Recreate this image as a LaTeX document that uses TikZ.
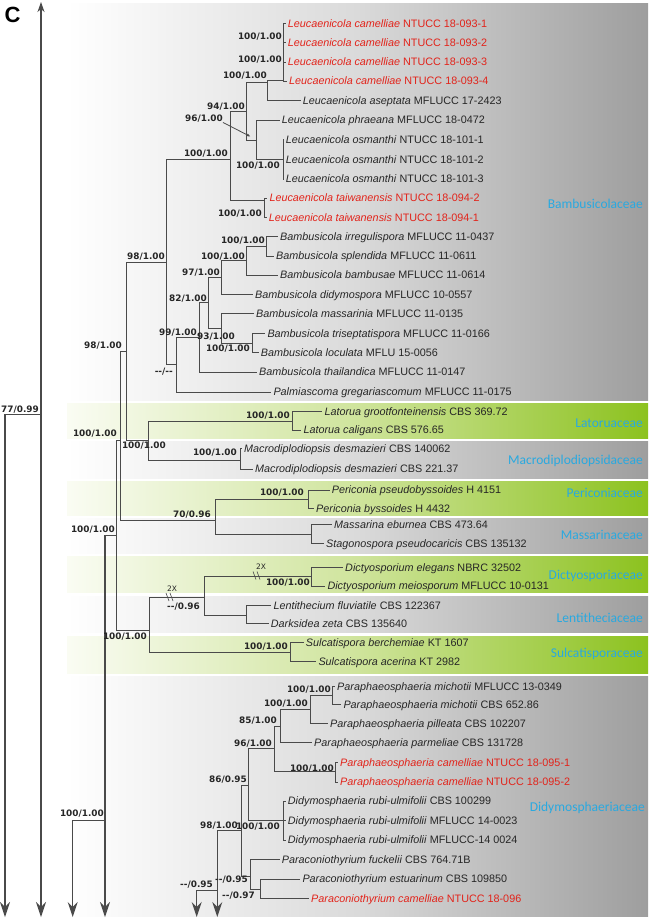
\documentclass[tikz,border=0pt]{standalone}
\usepackage{fontspec}
\setmainfont{Liberation Sans}
\newfontfamily\supfnt{DejaVu Sans}
\newfontfamily\famfnt{Carlito}
\usetikzlibrary{arrows.meta}
\definecolor{brc}{HTML}{4A4A4A}
\definecolor{redc}{HTML}{E2231A}
\definecolor{txc}{HTML}{262626}
\definecolor{famc}{HTML}{29A9E0}
\definecolor{grayR}{HTML}{9E9E9E}
\definecolor{grayM}{HTML}{DADADA}
\definecolor{greenR}{HTML}{8CC21F}
\definecolor{greenM}{HTML}{CFE49C}
\definecolor{greenL}{HTML}{FAFCF3}
\newcommand\tipn[6]{\node[tx,text=#6] (#1) at (#2,#3) {\textit{#4} #5};}
\newcommand\supl[4]{\node[sup] (#1) at (#2,#3) {#4};}
\newcommand\famlab[4]{\node[fam] (#1) at (#2,#3) {#4};}
\begin{document}
\begin{tikzpicture}[x=1pt,y=-1pt,
  br/.style={draw=brc,line width=0.9pt},
  tx/.style={font=\fontsize{10.8}{12}\selectfont,inner sep=0pt,anchor=west,text height=7.7pt,text depth=0pt},
  sup/.style={font=\supfnt\bfseries\fontsize{8.9}{10}\selectfont,text=txc,inner sep=0pt,anchor=east,text height=6.5pt,text depth=0pt},
  fam/.style={font=\famfnt\fontsize{13.5}{15}\selectfont,text=famc,inner sep=0pt,anchor=east,text height=8.7pt,text depth=0pt},
  arr/.style={draw=brc,line width=1.2pt,-{Stealth[length=15pt,width=10pt,inset=5pt]}},
  grayband/.style={left color=white,right color=grayR,middle color=grayM},
  greenband/.style={left color=greenL,right color=greenR,middle color=greenM},
  small/.style={font=\supfnt\fontsize{7.5}{8}\selectfont,text=txc,inner sep=0pt}]
\useasboundingbox (0,0) rectangle (648,921);
\fill[white] (0,0) rectangle (648,921);
% bands
\shade[grayband] (67,3) rectangle (648,400);
\shade[greenband] (67,403.3) rectangle (648,438.3);
\shade[grayband] (67,441.7) rectangle (648,478.3);
\shade[greenband] (67,481.7) rectangle (648,515);
\shade[grayband] (67,518.3) rectangle (648,553.3);
\shade[greenband] (67,556.7) rectangle (648,592.7);
\shade[grayband] (67,596) rectangle (648,632.7);
\shade[greenband] (67,636) rectangle (648,673.3);
\shade[grayband] (67,676.7) rectangle (648,916.7);

\node[font=\bfseries\fontsize{22}{22}\selectfont,inner sep=0pt] (panel) at (12.5,15) {C};

% tips
\tipn{t1}{287.7}{23.3}{Leucaenicola camelliae}{NTUCC 18-093-1}{redc}
\tipn{t2}{287.7}{42.7}{Leucaenicola camelliae}{NTUCC 18-093-2}{redc}
\tipn{t3}{287.7}{62}{Leucaenicola camelliae}{NTUCC 18-093-3}{redc}
\tipn{t4}{289}{81}{Leucaenicola camelliae}{NTUCC 18-093-4}{redc}
\tipn{t5}{302.7}{100.3}{Leucaenicola aseptata}{MFLUCC 17-2423}{txc}
\tipn{t6}{281.7}{120}{Leucaenicola phraeana}{MFLUCC 18-0472}{txc}
\tipn{t7}{285.7}{139.3}{Leucaenicola osmanthi}{NTUCC 18-101-1}{txc}
\tipn{t8}{285.7}{159.3}{Leucaenicola osmanthi}{NTUCC 18-101-2}{txc}
\tipn{t9}{285.7}{179}{Leucaenicola osmanthi}{NTUCC 18-101-3}{txc}
\tipn{t10}{269.3}{198}{Leucaenicola taiwanensis}{NTUCC 18-094-2}{redc}
\tipn{t11}{268.7}{217.3}{Leucaenicola taiwanensis}{NTUCC 18-094-1}{redc}
\tipn{t12}{280}{236.7}{Bambusicola irregulispora}{MFLUCC 11-0437}{txc}
\tipn{t13}{276}{256}{Bambusicola splendida}{MFLUCC 11-0611}{txc}
\tipn{t14}{280}{275}{Bambusicola bambusae}{MFLUCC 11-0614}{txc}
\tipn{t15}{255}{294.3}{Bambusicola didymospora}{MFLUCC 10-0557}{txc}
\tipn{t16}{256}{313.3}{Bambusicola massarinia}{MFLUCC 11-0135}{txc}
\tipn{t17}{267.3}{333.3}{Bambusicola triseptatispora}{MFLUCC 11-0166}{txc}
\tipn{t18}{260.7}{352.7}{Bambusicola loculata}{MFLU 15-0056}{txc}
\tipn{t19}{259}{372}{Bambusicola thailandica}{MFLUCC 11-0147}{txc}
\tipn{t20}{273.3}{392}{Palmiascoma gregariascomum}{MFLUCC 11-0175}{txc}
\tipn{t21}{324.3}{411.3}{Latorua grootfonteinensis}{CBS 369.72}{txc}
\tipn{t22}{303.3}{430}{Latorua caligans}{CBS 576.65}{txc}
\tipn{t23}{244}{448.3}{Macrodiplodiopsis desmazieri}{CBS 140062}{txc}
\tipn{t24}{255}{469}{Macrodiplodiopsis desmazieri}{CBS 221.37}{txc}
\tipn{t25}{331.7}{490}{Periconia pseudobyssoides}{H 4151}{txc}
\tipn{t26}{316}{508.3}{Periconia byssoides}{H 4432}{txc}
\tipn{t27}{334}{524.3}{Massarina eburnea}{CBS 473.64}{txc}
\tipn{t28}{326}{543.3}{Stagonospora pseudocaricis}{CBS 135132}{txc}
\tipn{t29}{345}{567.3}{Dictyosporium elegans}{NBRC 32502}{txc}
\tipn{t30}{327.3}{586}{Dictyosporium meiosporum}{MFLUCC 10-0131}{txc}
\tipn{t31}{273.3}{605.7}{Lentithecium fluviatile}{CBS 122367}{txc}
\tipn{t32}{270.7}{623.3}{Darksidea zeta}{CBS 135640}{txc}
\tipn{t33}{305.7}{642.7}{Sulcatispora berchemiae}{KT 1607}{txc}
\tipn{t34}{318.3}{661.7}{Sulcatispora acerina}{KT 2982}{txc}
\tipn{t35}{337}{686.7}{Paraphaeosphaeria michotii}{MFLUCC 13-0349}{txc}
\tipn{t36}{343.3}{704.7}{Paraphaeosphaeria michotii}{CBS 652.86}{txc}
\tipn{t37}{330}{723.3}{Paraphaeosphaeria pilleata}{CBS 102207}{txc}
\tipn{t38}{314}{742.7}{Paraphaeosphaeria parmeliae}{CBS 131728}{txc}
\tipn{t39}{340}{762.7}{Paraphaeosphaeria camelliae}{NTUCC 18-095-1}{redc}
\tipn{t40}{340}{782}{Paraphaeosphaeria camelliae}{NTUCC 18-095-2}{redc}
\tipn{t41}{287.7}{801}{Didymosphaeria rubi-ulmifolii}{CBS 100299}{txc}
\tipn{t42}{287.7}{820.3}{Didymosphaeria rubi-ulmifolii}{MFLUCC 14-0023}{txc}
\tipn{t43}{287.7}{840}{Didymosphaeria rubi-ulmifolii}{MFLUCC-14 0024}{txc}
\tipn{t44}{281.7}{859.3}{Paraconiothyrium fuckelii}{CBS 764.71B}{txc}
\tipn{t45}{302.3}{879}{Paraconiothyrium estuarinum}{CBS 109850}{txc}
\tipn{t46}{311}{898.3}{Paraconiothyrium camelliae}{NTUCC 18-096}{redc}

% internal nodes
\coordinate (cam) at (283.3,80);
\coordinate (A) at (267.7,82.7);
\coordinate (osm) at (283.3,159.3);
\coordinate (B) at (256.7,140);
\coordinate (C) at (246.7,111.7);
\coordinate (taiw) at (264.5,200);
\coordinate (D) at (230.7,159.3);
\coordinate (E) at (166.7,262.3);
\coordinate (H) at (266.3,246.5);
\coordinate (I) at (246.7,260.7);
\coordinate (J) at (221.7,277.5);
\coordinate (M) at (252.3,343);
\coordinate (L) at (221.7,328);
\coordinate (K) at (208.3,302.8);
\coordinate (N) at (199.3,337.5);
\coordinate (F) at (176.7,364);
\coordinate (O) at (126.7,351.7);
\coordinate (P) at (148.3,440.7);
\coordinate (Lat) at (292,421.7);
\coordinate (Mac) at (240,460);
\coordinate (R) at (120.5,440.7);
\coordinate (S) at (215,520);
\coordinate (Per) at (308.3,499);
\coordinate (Mas) at (311.7,534);
\coordinate (Q) at (116.2,535);
\coordinate (T) at (149.3,630);
\coordinate (V) at (204,597.3);
\coordinate (W) at (311.7,576.5);
\coordinate (X) at (246.7,615);
\coordinate (Y) at (290,652.7);
\coordinate (U) at (105,535);
\coordinate (Z) at (72.7,820);
\coordinate (CC) at (332.7,695.7);
\coordinate (DD) at (310,709.5);
\coordinate (EE) at (280,726);
\coordinate (GG) at (335.7,771.7);
\coordinate (FF) at (274,748);
\coordinate (HH) at (283.3,820.3);
\coordinate (BB) at (248.3,785);
\coordinate (JJ) at (260,889);
\coordinate (II) at (250.7,876);
\coordinate (AA) at (241.7,830);
\coordinate (Db) at (217.3,830);
\coordinate (Db2) at (217.3,890);
\coordinate (Dc) at (196.7,890);
% arrow ends and left lines
\coordinate (topA) at (41,2);
\coordinate (botA) at (41,917);
\coordinate (r77) at (41,414);
\coordinate (l77) at (5,414);
\coordinate (bot77) at (5,917);
\coordinate (botU) at (105,917);
\coordinate (botZ) at (72.7,917);
\coordinate (botDb) at (217.3,917);
\coordinate (botDc) at (196.7,917);

% connectors to tips
\foreach \p/\c in {cam/t1,cam/t2,cam/t3,cam/t4,A/t5,B/t6,osm/t7,osm/t8,osm/t9,taiw/t10,taiw/t11,
  H/t12,H/t13,I/t14,J/t15,L/t16,M/t17,M/t18,N/t19,F/t20,Lat/t21,Lat/t22,Mac/t23,Mac/t24,
  Per/t25,Per/t26,Mas/t27,Mas/t28,W/t29,W/t30,X/t31,X/t32,Y/t33,Y/t34,CC/t35,CC/t36,DD/t37,EE/t38,
  GG/t39,GG/t40,HH/t41,HH/t42,HH/t43,II/t44,JJ/t45,JJ/t46}
  \draw[br] (\p) |- ([xshift=-2pt]\c.west);
% internal connectors
\foreach \p/\c in {A/cam,C/A,C/B,B/osm,D/C,D/taiw,E/D,E/F,I/H,J/I,L/M,K/J,K/L,N/K,F/N,O/E,O/P,P/Lat,P/Mac,
  R/O,R/S,S/Per,S/Mas,Q/R,Q/T,T/V,T/Y,V/W,V/X,U/Q,U/Z,
  DD/CC,EE/DD,FF/EE,FF/GG,BB/FF,BB/HH,II/JJ,AA/BB,AA/II,Db/AA}
  \draw[br] (\p) |- (\c);
\draw[br] (Db2) -- (Dc);
\draw[br] (l77) -- (r77);
% long lines with arrows
\draw[draw=brc,line width=1.2pt,{Stealth[length=10pt,width=7pt,inset=3pt]}-{Stealth[length=15pt,width=10pt,inset=5pt]}] (topA) -- (botA);
\draw[arr] (l77) -- (bot77);
\draw[arr] (U) -- (botU);
\draw[arr] (Z) -- (botZ);
\draw[arr] (Db) -- (botDb);
\draw[arr] (Dc) -- (botDc);

% support labels
\supl{s1}{282}{36}{100/1.00}
\supl{s2}{282}{59}{100/1.00}
\supl{s3}{267}{75}{100/1.00}
\supl{s4}{245}{106}{94/1.00}
\supl{s5}{223}{118}{96/1.00}
\supl{s6}{280}{165.7}{100/1.00}
\supl{s7}{228}{153}{100/1.00}
\supl{s8}{262}{213}{100/1.00}
\supl{s9}{265}{240.7}{100/1.00}
\supl{s10}{245}{256}{100/1.00}
\supl{s11}{220}{272.7}{97/1.00}
\supl{s12}{207}{298}{82/1.00}
\supl{s13}{197}{332.3}{99/1.00}
\supl{s14}{235}{336.7}{93/1.00}
\supl{s15}{250}{348.3}{100/1.00}
\supl{s16}{173}{371.7}{-{}-/-{}-}
\supl{s17}{165}{256.7}{98/1.00}
\supl{s18}{122}{345}{98/1.00}
\supl{s19}{117}{433.3}{100/1.00}
\supl{s20}{166}{445.7}{100/1.00}
\supl{s21}{290}{415}{100/1.00}
\supl{s22}{237}{452.7}{100/1.00}
\supl{s23}{304}{492.3}{100/1.00}
\supl{s24}{211}{514}{70/0.96}
\supl{s25}{115}{529}{100/1.00}
\supl{s26}{310}{582.7}{100/1.00}
\supl{s27}{200}{606.5}{-{}-/0.96}
\supl{s28}{147}{636.7}{100/1.00}
\supl{s29}{288}{646.7}{100/1.00}
\supl{s30}{104}{813.3}{100/1.00}
\supl{s31}{331}{689.3}{100/1.00}
\supl{s32}{308}{703.3}{100/1.00}
\supl{s33}{277}{720.7}{85/1.00}
\supl{s34}{272}{743.3}{96/1.00}
\supl{s35}{334}{768.3}{100/1.00}
\supl{s36}{247}{779.3}{86/0.95}
\supl{s37}{280}{826}{100/1.00}
\supl{s38}{238}{825}{98/1.00}
\supl{s39}{248}{879.3}{-{}-/0.95}
\supl{s40}{255}{895}{-{}-/0.97}
\supl{s41}{213}{884.3}{-{}-/0.95}
\supl{s42}{39}{409.3}{77/0.99}

% arrow from 96/1.00 to its node
\coordinate (a96) at (250.7,136.7);
\draw[br,line width=0.8pt,-{Latex[length=4pt,width=3pt]}] ([yshift=-1pt]s5.south east) -- (a96);

% 2X break marks
\node[small] (x2a) at (261,566.5) {2X};
\node[small] (x2b) at (172,589) {2X};
\coordinate (ba) at (257,575.5);
\coordinate (bb) at (170,597);
\draw[brc,line width=0.6pt] ([xshift=-4pt,yshift=4pt]ba) -- ([xshift=-1pt,yshift=-4pt]ba)
  ([xshift=0pt,yshift=4pt]ba) -- ([xshift=3pt,yshift=-4pt]ba);
\draw[brc,line width=0.6pt] ([xshift=-4pt,yshift=4pt]bb) -- ([xshift=-1pt,yshift=-4pt]bb)
  ([xshift=0pt,yshift=4pt]bb) -- ([xshift=3pt,yshift=-4pt]bb);

% family labels
\famlab{f1}{643}{204}{Bambusicolaceae}
\famlab{f2}{643}{422.7}{Latoruaceae}
\famlab{f3}{643}{460}{Macrodiplodiopsidaceae}
\famlab{f4}{643}{493}{Periconiaceae}
\famlab{f5}{643}{535}{Massarinaceae}
\famlab{f6}{643}{575}{Dictyosporiaceae}
\famlab{f7}{643}{618.3}{Lentitheciaceae}
\famlab{f8}{643}{653.3}{Sulcatisporaceae}
\famlab{f9}{645}{806.7}{Didymosphaeriaceae}
\end{tikzpicture}
\end{document}
